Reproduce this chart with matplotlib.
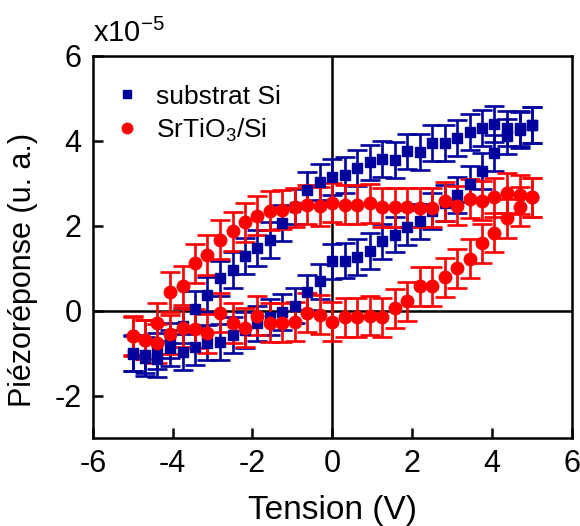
import matplotlib
matplotlib.use("Agg")
import matplotlib.pyplot as plt
import numpy as np

plt.rcParams['font.family'] = ['Liberation Sans', 'DejaVu Sans']
plt.rcParams['mathtext.default'] = 'regular'
plt.rcParams['axes.unicode_minus'] = False

# Voltage steps (V)
volts = [-5.0, -4.69, -4.38, -4.06, -3.75, -3.44, -3.13, -2.81, -2.5, -2.19, -1.88,
         -1.56, -1.25, -0.94, -0.63, -0.31, 0.0, 0.31, 0.63, 0.94, 1.25, 1.56, 1.88,
         2.19, 2.5, 2.81, 3.13, 3.44, 3.75, 4.06, 4.38, 4.69, 5.0]

# Piezoresponse (x1e-5 a.u.)
si_upper = [-1.00, -1.05, -0.95, -0.70, -0.35, 0.05, 0.38, 0.76, 0.95, 1.28, 1.47,
            1.66, 2.06, 2.45, 2.85, 3.03, 3.14, 3.20, 3.36, 3.49, 3.57, 3.54, 3.75,
            3.74, 3.95, 3.94, 4.06, 4.21, 4.30, 4.40, 4.29, 4.29, 4.37]
si_lower = [-1.01, -1.11, -1.13, -0.88, -0.97, -0.86, -0.75, -0.73, -0.58, -0.45, -0.30,
            -0.15, -0.03, 0.12, 0.43, 0.69, 1.16, 1.18, 1.26, 1.41, 1.63, 1.79, 1.96,
            2.10, 2.34, 2.53, 2.73, 2.98, 3.29, 3.71, 4.10, 4.25, 4.37]
sto_upper = [-0.59, -0.68, -0.28, 0.44, 0.59, 1.12, 1.31, 1.67, 1.87, 2.08, 2.23,
             2.35, 2.38, 2.43, 2.49, 2.46, 2.54, 2.49, 2.49, 2.53, 2.43, 2.43, 2.43,
             2.42, 2.42, 2.57, 2.47, 2.64, 2.59, 2.67, 2.77, 2.73, 2.67]
sto_lower = [-0.60, -0.68, -0.77, -0.56, -0.40, -0.42, -0.53, -0.05, -0.29, -0.40, -0.12,
             -0.28, -0.28, -0.26, -0.05, -0.10, -0.26, -0.16, -0.15, -0.12, -0.15, 0.06, 0.22,
             0.57, 0.57, 0.79, 1.00, 1.22, 1.59, 1.84, 2.17, 2.45, 2.67]
si_err = 0.42
sto_err = 0.46

blue = '#00009c'
red = '#ff0000'

fig = plt.figure(figsize=(5.8, 5.26), dpi=100)
ax = fig.add_axes([0.160, 0.167, 0.826, 0.727])

ax.axhline(0, color='black', lw=1.8, zorder=1)
ax.axvline(0, color='black', lw=1.8, zorder=1)

x_all = volts + volts
for ys, c, m, ms, err, lab in [
        (si_upper + si_lower, blue, 's', 7.5, si_err, 'substrat Si'),
        (sto_upper + sto_lower, red, 'o', 9, sto_err, 'SrTiO$_3$/Si')]:
    ax.errorbar(x_all, ys, yerr=err, fmt=m, color=c, ms=ms, mec=c, mfc=c,
                ecolor=c, elinewidth=1.9, capsize=7.5, capthick=1.9, zorder=3)
    ax.plot([], [], m, color=c, ms=ms - 1.5, label=lab)

ax.set_xlim(-6, 6)
ax.set_ylim(-3, 6)
ax.set_xticks([-6, -4, -2, 0, 2, 4, 6])
ax.set_yticks([-2, 0, 2, 4, 6])
ax.tick_params(direction='in', length=7, width=1.8, labelsize=22, pad=8,
               top=False, right=False)
for s in ax.spines.values():
    s.set_linewidth(1.8)

ax.set_xlabel('Tension (V)', fontsize=24)
ax.xaxis.set_label_coords(0.5, -0.148)
ax.set_ylabel('Piézoréponse (u. a.)', fontsize=22)
ax.yaxis.set_label_coords(-0.115, 0.44)
ax.text(0.0, 1.02, 'x10$^{-5}$', transform=ax.transAxes, fontsize=21,
        ha='left', va='bottom')

leg = ax.legend(loc='upper left', frameon=False, fontsize=19, handletextpad=0.6,
                borderaxespad=0.4, bbox_to_anchor=(0.0, 0.98), handlelength=1.0,
                labelspacing=0.3)

fig.savefig('out.png', dpi=100)
